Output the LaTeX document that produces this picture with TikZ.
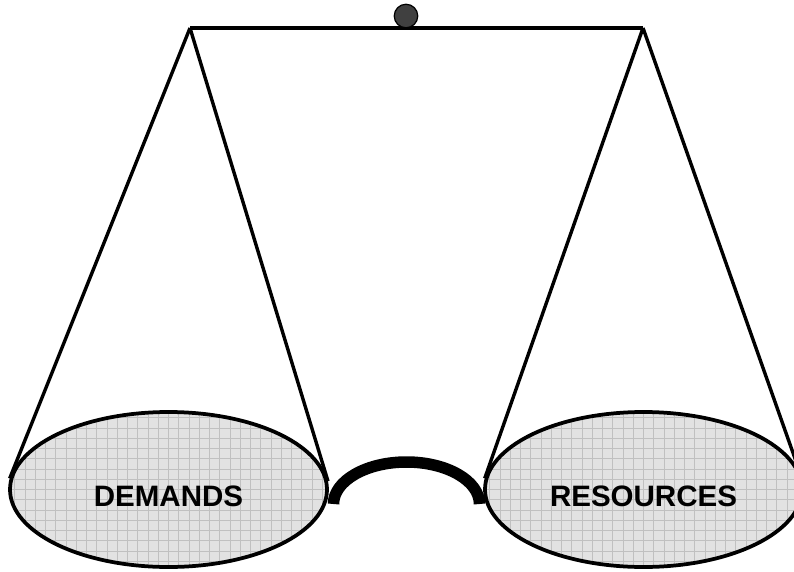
\documentclass[tikz,border=0pt]{standalone}
\usepackage{fontspec}
\setmainfont{Liberation Sans}
\usetikzlibrary{shapes.geometric}
\definecolor{pangray}{RGB}{226,226,226}
\definecolor{gridgray}{RGB}{192,192,192}
\definecolor{knobgray}{RGB}{64,64,64}

\begin{document}
\begin{tikzpicture}[line join=round,
  pan/.style={draw=black, line width=0.075cm, ellipse, fill=pangray, inner sep=0pt, minimum width=6.34cm, minimum height=3.10cm,
    path picture={\draw[gridgray, line width=0.35pt, step=0.205] (path picture bounding box.south west) grid (path picture bounding box.north east);}},
  rope/.style={line width=0.068cm},
  panlabel/.style={font=\bfseries\fontsize{16.8}{20}\selectfont}]
\useasboundingbox (0,0) rectangle (15.88,11.42);
% beam
\coordinate (bl) at (3.80,10.86);
\coordinate (br) at (12.86,10.86);
\draw[rope] (bl)--(br);
\node[draw=black, line width=0.7pt, circle, fill=knobgray, minimum size=0.47cm, inner sep=0pt] (knob) at (8.12,11.10) {};
% pans
\node[pan] (dem) at (3.37,1.63) {};
\node[pan] (res) at (12.87,1.63) {};
\node[panlabel] (demlbl) at ([yshift=-0.13cm]dem.center) {DEMANDS};
\node[panlabel] (reslbl) at ([yshift=-0.13cm]res.center) {RESOURCES};
\draw[rope] (bl)--(dem.176.5);
\draw[rope] (bl)--(dem.3.5);
\draw[rope] (br)--(res.176.5);
\draw[rope] (br)--(res.3.5);
% link between the pans
\coordinate (hl) at (6.67,1.34);
\draw[line width=0.23cm] (hl) arc[start angle=180, end angle=0, x radius=1.46, y radius=0.84] coordinate (hr);
\end{tikzpicture}
\end{document}
